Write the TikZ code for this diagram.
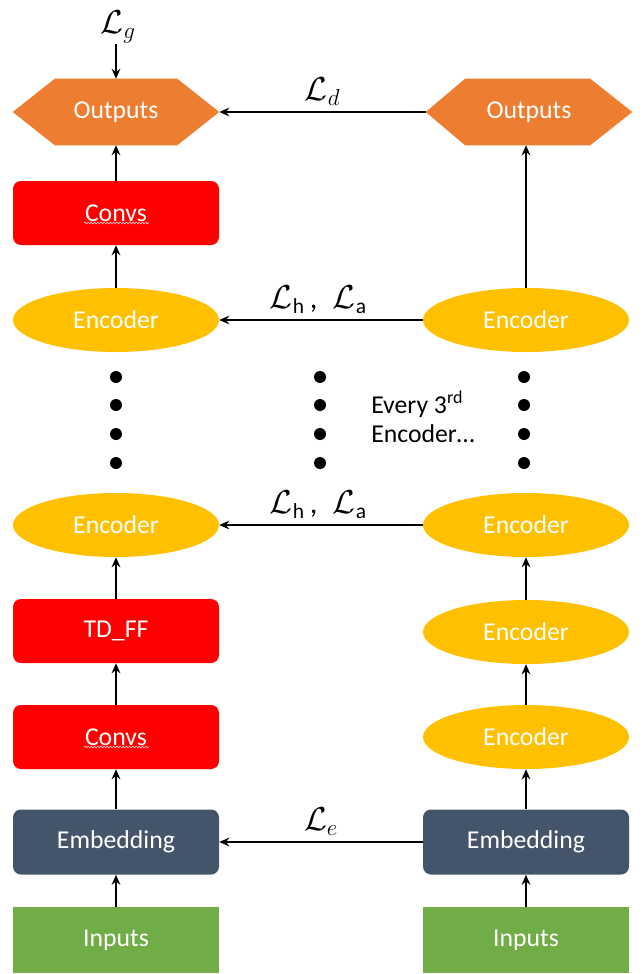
\documentclass[tikz,border=0pt]{standalone}
\usepackage{fontspec}
\setmainfont{Carlito}
\usetikzlibrary{shapes.geometric,arrows.meta,decorations.pathmorphing}
\pgfdeclarelayer{background}
\pgfsetlayers{background,main}
\definecolor{corange}{HTML}{ED7D31}
\definecolor{cred}{HTML}{FF0000}
\definecolor{cyel}{HTML}{FFC000}
\definecolor{cemb}{HTML}{44546A}
\definecolor{cgreen}{HTML}{70AD47}
\definecolor{cwave}{RGB}{240,200,200}
\begin{document}
\begin{tikzpicture}[x=0.75pt,y=-0.75pt,
  base/.style={text=white, font=\fontsize{19.3}{23}\selectfont, minimum width=154.5pt, minimum height=48pt, inner sep=0pt},
  redbox/.style={base, fill=cred, rounded corners=6pt},
  embbox/.style={base, fill=cemb, rounded corners=6pt, minimum height=48.75pt},
  inbox/.style={base, fill=cgreen, minimum height=49.5pt},
  enc/.style={base, ellipse, fill=cyel},
  outbox/.style={base, minimum height=49.5pt},
  arr/.style={-{Stealth[length=7.5pt,width=6.5pt]}, line width=1.6pt},
  lbl/.style={font=\fontsize{19.3}{23}\selectfont},
  mlbl/.style={font=\fontsize{23}{27}\selectfont, inner sep=1pt},
  dotn/.style={circle, fill=black, inner sep=0pt, minimum size=9pt},
  wave/.style={draw=cwave, line width=0.5pt, decorate, decoration={snake, amplitude=0.6pt, segment length=2.4pt}}
]
\useasboundingbox (0,0) rectangle (643,974);

% left column
\node[outbox] (lo) at (116,112) {Outputs};
\node[redbox] (lc1) at (116,213) {Convs};
\node[enc] (le1) at (116,320) {Encoder};
\node[enc] (le2) at (116,525) {Encoder};
\node[redbox] (ltd) at (116,631) {TD\_FF};
\node[redbox] (lc2) at (116,737) {Convs};
\node[embbox] (lem) at (116,842) {Embedding};
\node[inbox] (lin) at (116,940) {Inputs};

% right column
\node[outbox] (ro) at (529,112) {Outputs};
\node[enc] (re1) at (526,320) {Encoder};
\node[enc] (re2) at (526,525) {Encoder};
\node[enc] (re3) at (526,632) {Encoder};
\node[enc] (re4) at (526,737) {Encoder};
\node[embbox] (rem) at (526,842) {Embedding};
\node[inbox] (rin) at (526,940) {Inputs};

% hexagons
\begin{pgfonlayer}{background}
\fill[corange] (lo.west) -- ([xshift=31.5pt]lo.north west) -- ([xshift=-31.5pt]lo.north east) -- (lo.east) -- ([xshift=-31.5pt]lo.south east) -- ([xshift=31.5pt]lo.south west) -- cycle;
\fill[corange] (ro.west) -- ([xshift=29.5pt]ro.north west) -- ([xshift=-31.5pt]ro.north east) -- (ro.east) -- ([xshift=-31.5pt]ro.south east) -- ([xshift=29.5pt]ro.south west) -- cycle;
\end{pgfonlayer}

% spell-check underlines
\draw[wave] ([xshift=-24pt,yshift=-7.5pt]lc1.center) -- ([xshift=25pt,yshift=-7.5pt]lc1.center);
\draw[wave] ([xshift=-24pt,yshift=-7.5pt]lc2.center) -- ([xshift=25pt,yshift=-7.5pt]lc2.center);

% dots
\foreach \i/\y in {1/377,2/405,3/434,4/463}{
  \node[dotn] (dl\i) at (116,\y) {};
  \node[dotn] (dm\i) at (320,\y) {};
  \node[dotn] (dr\i) at (524,\y) {};
}
\node[lbl, anchor=west, align=left, inner sep=0pt] (every) at (371,417) {Every 3\textsuperscript{rd}\\[-1pt]Encoder\dots};

% left column arrows
\draw[arr] (lin) -- (lem);
\draw[arr] (lem) -- (lc2);
\draw[arr] (lc2) -- (ltd);
\draw[arr] (ltd) -- (le2);
\draw[arr] (le1) -- (lc1);
\draw[arr] (lc1) -- (lo);
\node[mlbl, inner sep=0pt] (lg) at (118,27) {$\mathcal{L}_g$};
\coordinate (lgc) at (116,44);
\draw[arr] (lgc) -- (lo.north);

% right column arrows
\draw[arr] (rin) -- (rem);
\draw[arr] (rem) -- (re4);
\draw[arr] (re4) -- (re3);
\draw[arr] (re3) -- (re2);
\draw[arr] (re1.north) -- (re1.north |- ro.south);

% horizontal arrows
\draw[arr] (ro.west) -- (lo.east) node[mlbl, midway, above=3pt] (ld) {$\mathcal{L}_d$};
\draw[arr] (re1.west) -- (le1.east) node[mlbl, midway, above=3pt, xshift=-2pt] (lh1) {$\mathcal{L}_{\mathrm{h}}$\,,\; $\mathcal{L}_{\mathrm{a}}$};
\draw[arr] (re2.west) -- (le2.east) node[mlbl, midway, above=3pt, xshift=-2pt] (lh2) {$\mathcal{L}_{\mathrm{h}}$\,,\; $\mathcal{L}_{\mathrm{a}}$};
\draw[arr] (rem.west) -- (lem.east) node[mlbl, midway, above=3pt] (le) {$\mathcal{L}_e$};
\end{tikzpicture}
\end{document}
